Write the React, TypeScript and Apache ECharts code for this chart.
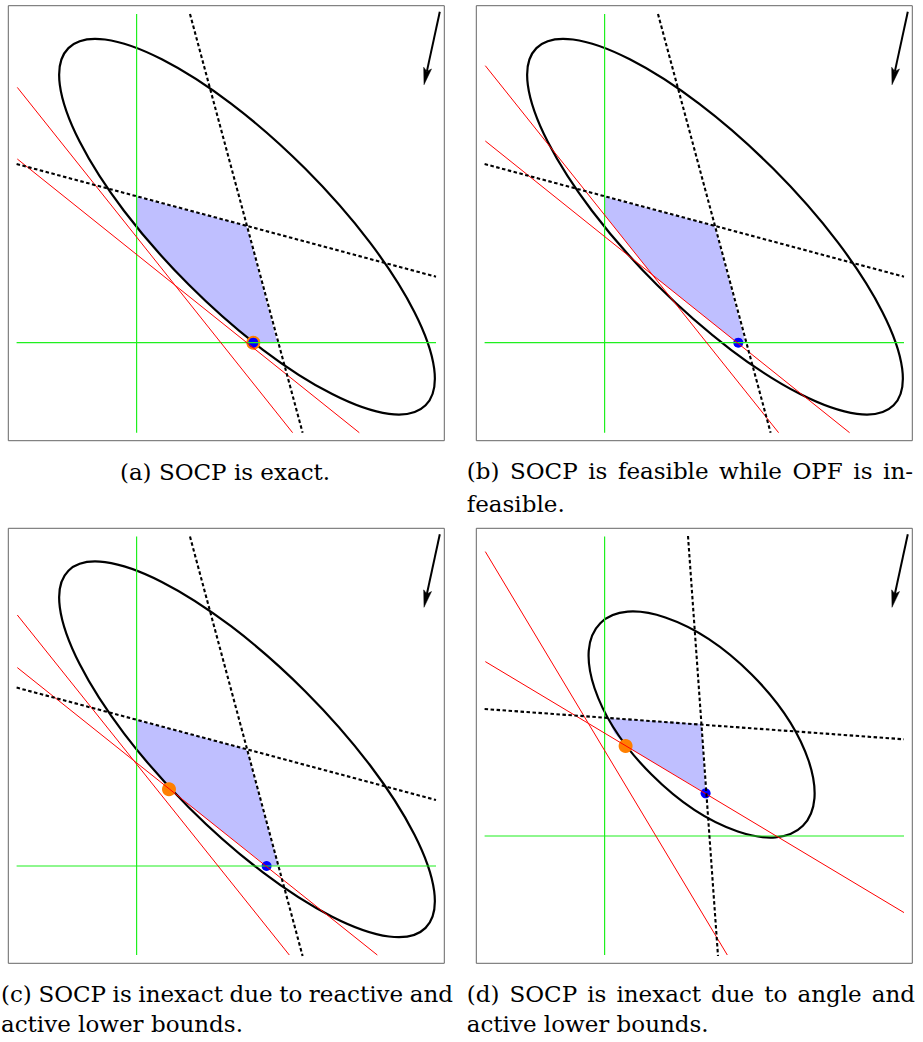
import React, { useEffect, useRef } from "react";
import * as echarts from "echarts";

type Pt = [number, number];

// Local panel units (0..436 horizontally, 0..435 vertically, y pointing down)
const X_MAX = 436;
const Y_MAX = 435;

// ---------- Panel (a) ----------
const greenV_a: Pt[] = [[128.3, 8.3], [128.3, 427]];
const greenH_a: Pt[] = [[8.3, 337], [427.7, 337]];
const dashSteep_a: Pt[] = [[181.7, 8.3], [294.3, 427]];
const dashFlat_a: Pt[] = [[8.3, 158.3], [427.7, 271]];
const redSteep_a: Pt[] = [[9, 81.7], [284.3, 427]];
const redFlat_a: Pt[] = [[9, 153.3], [351, 427]];
const ellipse_a = [238.7, 221, 252.6, 82.2, 45]; // cx, cy, semi-major, semi-minor, tilt (deg, clockwise)
const region_a: Pt[] = [[128.3, 191], [238.3, 220.3], [269, 337], [245, 337], [230, 324], [204.7, 302], [180.7, 279], [157.7, 255], [128.3, 221]];
const orange_a: Pt[] = [[245, 337]];
const blue_a: Pt[] = [[245, 337]];

// ---------- Panel (b) ----------
const greenV_b: Pt[] = [[128.3, 8.3], [128.3, 427]];
const greenH_b: Pt[] = [[8.3, 337], [427.7, 337]];
const dashSteep_b: Pt[] = [[181.7, 8.3], [294.3, 427]];
const dashFlat_b: Pt[] = [[8.3, 158.3], [427.7, 271]];
const redSteep_b: Pt[] = [[9, 60], [302.3, 427]];
const redFlat_b: Pt[] = [[9, 135.3], [373.3, 427]];
const ellipse_b = [238.7, 221, 252.6, 82.2, 45];
const region_b: Pt[] = [[128.3, 191], [238.3, 220.3], [269, 337], [261, 337], [176.3, 269.3], [128.3, 209.3]];
const orange_b: Pt[] = [];
const blue_b: Pt[] = [[262, 337]];

// ---------- Panel (c) ----------
const greenV_c: Pt[] = [[128.3, 8.3], [128.3, 426.7]];
const greenH_c: Pt[] = [[8.3, 337.7], [427.7, 337.7]];
const dashSteep_c: Pt[] = [[181.7, 8.3], [294.3, 427.7]];
const dashFlat_c: Pt[] = [[8.3, 159.3], [427.7, 271.7]];
const redSteep_c: Pt[] = [[9, 86.7], [281, 426.7]];
const redFlat_c: Pt[] = [[9, 139.3], [369, 426.7]];
const ellipse_c = [238.7, 221, 252.6, 82.2, 45];
const region_c: Pt[] = [[128.3, 191.7], [238.3, 221], [270, 337.7], [258.3, 337.7], [160.7, 261], [145, 240.7], [128.3, 221.7]];
const orange_c: Pt[] = [[160.7, 261]];
const blue_c: Pt[] = [[258.3, 337.7]];

// ---------- Panel (d) ----------
const greenV_d: Pt[] = [[128.3, 8.3], [128.3, 426.7]];
const greenH_d: Pt[] = [[8.3, 307.7], [427.7, 307.7]];
const dashSteep_d: Pt[] = [[211.7, 7.7], [241.7, 427.7]];
const dashFlat_d: Pt[] = [[8.3, 180.7], [427.7, 211]];
const redSteep_d: Pt[] = [[9, 23.3], [251, 426.7]];
const redFlat_d: Pt[] = [[9, 133.3], [427.7, 384.3]];
const ellipse_d = [225.3, 196.2, 143.3, 70.8, 45];
const region_d: Pt[] = [[131, 190], [225, 195.7], [229.3, 265], [149.3, 217.7], [138.3, 205]];
const orange_d: Pt[] = [[149.3, 217.7]];
const blue_d: Pt[] = [[229.3, 265]];

// Arrow (start -> tip), same in every panel
const arrowSeg = [431.5, 6, 415.7, 79];

// Captions
const captionLines = [
  { text: "(a) SOCP is exact.", x0: 225, y: 472, mode: "center" },
  { text: "(b) SOCP is feasible while OPF is in-", x0: 466.7, x1: 913, y: 471.3, mode: "justify" },
  { text: "feasible.", x0: 466.7, y: 503.7, mode: "left" },
  { text: "(c) SOCP is inexact due to reactive and", x0: 1, x1: 453, y: 994, mode: "justify" },
  { text: "active lower bounds.", x0: 1, y: 1024, mode: "left" },
  { text: "(d) SOCP is inexact due to angle and", x0: 466.7, x1: 915, y: 994, mode: "justify" },
  { text: "active lower bounds.", x0: 466.7, y: 1024, mode: "left" },
];

const gridPos = [
  { left: 8.3, top: 5.7 },
  { left: 476.3, top: 5.7 },
  { left: 8.3, top: 528.3 },
  { left: 476.3, top: 528.3 },
];

const panels = [
  { greenV: greenV_a, greenH: greenH_a, dashSteep: dashSteep_a, dashFlat: dashFlat_a, redSteep: redSteep_a, redFlat: redFlat_a, ellipse: ellipse_a, region: region_a, orange: orange_a, blue: blue_a },
  { greenV: greenV_b, greenH: greenH_b, dashSteep: dashSteep_b, dashFlat: dashFlat_b, redSteep: redSteep_b, redFlat: redFlat_b, ellipse: ellipse_b, region: region_b, orange: orange_b, blue: blue_b },
  { greenV: greenV_c, greenH: greenH_c, dashSteep: dashSteep_c, dashFlat: dashFlat_c, redSteep: redSteep_c, redFlat: redFlat_c, ellipse: ellipse_c, region: region_c, orange: orange_c, blue: blue_c },
  { greenV: greenV_d, greenH: greenH_d, dashSteep: dashSteep_d, dashFlat: dashFlat_d, redSteep: redSteep_d, redFlat: redFlat_d, ellipse: ellipse_d, region: region_d, orange: orange_d, blue: blue_d },
];

const GREEN = "#1ff01f";
const RED = "#ff0000";
const FILL = "rgba(0,0,255,0.25)";
const FONT_FAMILY = '"DejaVu Serif", serif';
const FONT_SIZE = 23;

function lineSeries(gi: number, data: Pt[], color: string, width: number, dash?: number[]) {
  return {
    type: "line",
    xAxisIndex: gi,
    yAxisIndex: gi,
    data,
    symbol: "none",
    silent: true,
    lineStyle: { color, width, type: dash ? dash : "solid", cap: "butt" },
  };
}

function buildSeries() {
  const out: any[] = [];
  panels.forEach((p, gi) => {
    out.push(lineSeries(gi, p.greenV, GREEN, 1.2));
    out.push(lineSeries(gi, p.greenH, GREEN, 1.2));
    out.push(lineSeries(gi, p.redSteep, RED, 1));
    out.push(lineSeries(gi, p.redFlat, RED, 1));
    const region = p.region;
    out.push({
      type: "custom",
      xAxisIndex: gi,
      yAxisIndex: gi,
      data: region,
      silent: true,
      renderItem: (params: any, api: any) => {
        if (params.dataIndex !== 0) return null;
        const pts = region.map((v) => api.coord(v));
        return { type: "polygon", shape: { points: pts }, style: { fill: FILL, stroke: null } };
      },
    });
    out.push({
      type: "custom",
      xAxisIndex: gi,
      yAxisIndex: gi,
      data: [p.ellipse],
      silent: true,
      renderItem: (params: any, api: any) => {
        const c = api.coord([api.value(0), api.value(1)]);
        const s = api.size([api.value(2), api.value(3)]);
        return {
          type: "ellipse",
          x: c[0],
          y: c[1],
          rotation: (-api.value(4) * Math.PI) / 180,
          shape: { cx: 0, cy: 0, rx: s[0], ry: s[1] },
          style: { fill: null, stroke: "#000", lineWidth: 2.2 },
        };
      },
    });
    out.push(lineSeries(gi, p.dashSteep, "#000", 2.1, [3.5, 2.5]));
    out.push(lineSeries(gi, p.dashFlat, "#000", 2.1, [3.5, 2.5]));
    if (p.orange.length) {
      out.push({
        type: "scatter",
        xAxisIndex: gi,
        yAxisIndex: gi,
        data: p.orange,
        symbol: "circle",
        symbolSize: 14,
        silent: true,
        itemStyle: { color: "#ff7f00", opacity: 1 },
      });
    }
    out.push({
      type: "scatter",
      xAxisIndex: gi,
      yAxisIndex: gi,
      data: p.blue,
      symbol: "circle",
      symbolSize: 10,
      silent: true,
      itemStyle: { color: "#0000ff", opacity: 1, borderWidth: 0 },
    });
    out.push({
      type: "custom",
      xAxisIndex: gi,
      yAxisIndex: gi,
      data: [arrowSeg],
      silent: true,
      renderItem: (params: any, api: any) => {
        const a = api.coord([api.value(0), api.value(1)]);
        const b = api.coord([api.value(2), api.value(3)]);
        const dx = b[0] - a[0];
        const dy = b[1] - a[1];
        const len = Math.sqrt(dx * dx + dy * dy);
        const ux = dx / len;
        const uy = dy / len;
        const L = 17;
        const W = 4;
        const base = [b[0] - ux * L, b[1] - uy * L];
        const notch = [b[0] - ux * L * 0.8, b[1] - uy * L * 0.8];
        const left = [base[0] - uy * W, base[1] + ux * W];
        const right = [base[0] + uy * W, base[1] - ux * W];
        return {
          type: "group",
          children: [
            { type: "line", shape: { x1: a[0], y1: a[1], x2: notch[0], y2: notch[1] }, style: { stroke: "#000", lineWidth: 2 } },
            { type: "polygon", shape: { points: [b, left, notch, right] }, style: { fill: "#000", stroke: "#000", lineWidth: 0.5 } },
          ],
        };
      },
    });
  });
  return out;
}

function buildCaptions() {
  const canvas = document.createElement("canvas");
  const ctx = canvas.getContext("2d")!;
  ctx.font = `${FONT_SIZE}px ${FONT_FAMILY}`;
  const els: any[] = [];
  const style = (text: string, align: string) => ({
    text,
    font: `${FONT_SIZE}px ${FONT_FAMILY}`,
    fill: "#000",
    align,
    verticalAlign: "middle",
  });
  captionLines.forEach((ln: any) => {
    if (ln.mode === "justify") {
      const words = ln.text.split(" ");
      const widths = words.map((w: string) => ctx.measureText(w).width);
      const total = widths.reduce((s: number, w: number) => s + w, 0);
      const gap = (ln.x1 - ln.x0 - total) / (words.length - 1);
      let x = ln.x0;
      words.forEach((w: string, i: number) => {
        els.push({ type: "text", x, y: ln.y, silent: true, style: style(w, "left") });
        x += widths[i] + gap;
      });
    } else {
      els.push({ type: "text", x: ln.x0, y: ln.y, silent: true, style: style(ln.text, ln.mode === "center" ? "center" : "left") });
    }
  });
  return els;
}

export default function App() {
  const ref = useRef<HTMLDivElement>(null);
  useEffect(() => {
    if (!ref.current) return;
    const chart = echarts.init(ref.current, undefined, { renderer: "svg" });
    const option: any = {
      animation: false,
      backgroundColor: "#ffffff",
      grid: gridPos.map((g) => ({
        left: g.left,
        top: g.top,
        width: X_MAX,
        height: Y_MAX,
        show: true,
        borderColor: "#666",
        borderWidth: 1,
        backgroundColor: "transparent",
        containLabel: false,
      })),
      xAxis: gridPos.map((_, i) => ({ type: "value", gridIndex: i, min: 0, max: X_MAX, show: false })),
      yAxis: gridPos.map((_, i) => ({ type: "value", gridIndex: i, min: 0, max: Y_MAX, inverse: true, show: false })),
      series: buildSeries(),
      graphic: buildCaptions(),
    };
    chart.setOption(option);
    return () => chart.dispose();
  }, []);
  return (
    <div
      ref={ref}
      style={{ position: "absolute", left: 0, top: 0, width: 923, height: 1042, background: "#fff" }}
    />
  );
}
